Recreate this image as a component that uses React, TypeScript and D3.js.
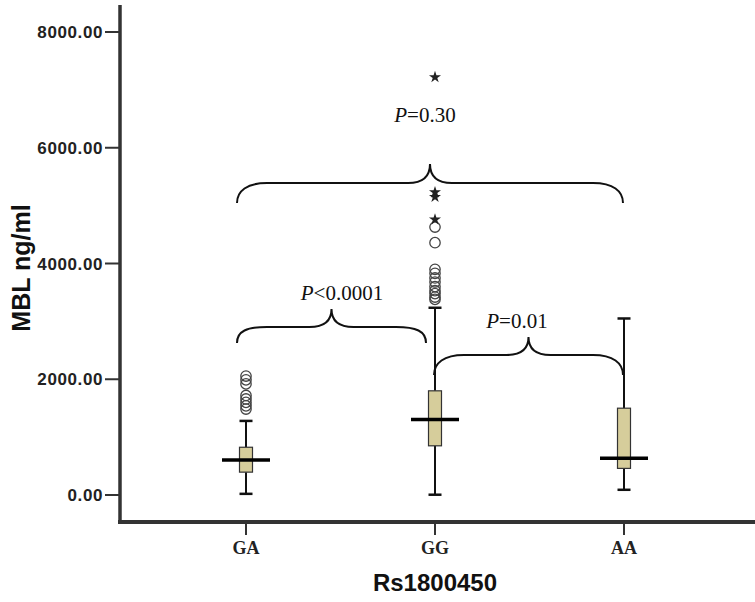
import * as d3 from "d3";

const categories = ["GA", "GG", "AA"];
const lowerWhisker = [20, 5, 90];
const q1 = [395, 850, 460];
const medians = [605, 1305, 635];
const q3 = [825, 1800, 1500];
const upperWhisker = [1280, 3235, 3050];
const circleOutliers = [
  [1485, 1540, 1600, 1660, 1720, 1920, 1990, 2055],
  [3380, 3420, 3480, 3530, 3600, 3680, 3750, 3830, 3900, 4360, 4630],
  [],
];
const starOutliers = [[], [4760, 5150, 5230, 7220], []];
const yTicks = [0, 2000, 4000, 6000, 8000];

// comparisons between genotypes
const compFrom = ["GA", "GA", "GG"];
const compTo = ["AA", "GG", "AA"];
const compOp = ["=", "<", "="];
const compP = ["0.30", "0.0001", "0.01"];

// bracket layout (pixels) for each comparison
const bracketLayout = [
  { x0: -9, x1: -1, base: 203, rise: 20, peak: 19, tx: 425, ty: 122 },
  { x0: -9, x1: -9, base: 343, rise: 16, peak: 18, tx: 342, ty: 300 },
  { x0: -1, x1: -1, base: 375, rise: 20, peak: 18, tx: 517, ty: 328 },
];

function bracketPath(a: number, b: number, yb: number, h1: number, h2: number) {
  const mid = (a + b) / 2;
  const r = 30;
  const r2 = 22;
  const yh = yb - h1;
  return `M${a},${yb} C${a},${yb - 12} ${a + 10},${yh} ${a + r},${yh} L${mid - r2},${yh} C${mid - 9},${yh} ${mid},${yh - 5} ${mid},${yh - h2} C${mid},${yh - 5} ${mid + 9},${yh} ${mid + r2},${yh} L${b - r},${yh} C${b - 10},${yh} ${b},${yb - 12} ${b},${yb}`;
}

export default function App() {
  const W = 755;
  const H = 602;
  const y = d3.scaleLinear().domain([0, 8000]).range([495, 32]);
  const x = d3.scalePoint<string>().domain(categories).range([246, 624]);
  const axisX = 120;
  const axisY = 522;
  const boxW = 13;
  const medW = 48;
  const capW = 13;
  const star = d3.symbol().type(d3.symbolStar).size(45)();

  return (
    <svg
      width={W}
      height={H}
      style={{ position: "absolute", left: 0, top: 0, background: "#fff" }}
    >
      {/* y axis */}
      <line x1={axisX} x2={axisX} y1={5} y2={axisY + 2} stroke="#333" strokeWidth={3.5} />
      {yTicks.map((t) => (
        <g key={t}>
          <line x1={105} x2={axisX} y1={y(t)} y2={y(t)} stroke="#333" strokeWidth={2} />
          <text
            x={103}
            y={y(t) + 6}
            textAnchor="end"
            fontFamily="'Liberation Sans', Arial, sans-serif"
            fontWeight="bold"
            fontSize={17}
            letterSpacing={0.6}
            fill="#222"
          >
            {d3.format(".2f")(t)}
          </text>
        </g>
      ))}
      <text
        transform={`translate(30,268) rotate(-90)`}
        textAnchor="middle"
        fontFamily="'Liberation Sans', Arial, sans-serif"
        fontWeight="bold"
        fontSize={25}
        fill="#111"
      >
        MBL ng/ml
      </text>

      {/* x axis */}
      <line x1={axisX - 2} x2={W} y1={axisY} y2={axisY} stroke="#333" strokeWidth={4} />
      {categories.map((c) => (
        <g key={c}>
          <line x1={x(c)} x2={x(c)} y1={axisY} y2={axisY + 13} stroke="#333" strokeWidth={2} />
          <text
            x={x(c)}
            y={axisY + 32}
            textAnchor="middle"
            fontFamily="'Liberation Serif', 'Times New Roman', serif"
            fontWeight="bold"
            fontSize={18}
            fill="#222"
          >
            {c}
          </text>
        </g>
      ))}
      <text
        x={435}
        y={591}
        textAnchor="middle"
        fontFamily="'Liberation Sans', Arial, sans-serif"
        fontWeight="bold"
        fontSize={24}
        fill="#111"
      >
        Rs1800450
      </text>

      {/* boxes */}
      {categories.map((c, i) => {
        const cx = x(c) as number;
        return (
          <g key={c}>
            <line x1={cx} x2={cx} y1={y(q3[i])} y2={y(upperWhisker[i])} stroke="#111" strokeWidth={2} />
            <line x1={cx} x2={cx} y1={y(q1[i])} y2={y(lowerWhisker[i])} stroke="#111" strokeWidth={2} />
            <line x1={cx - capW / 2} x2={cx + capW / 2} y1={y(upperWhisker[i])} y2={y(upperWhisker[i])} stroke="#111" strokeWidth={2.5} />
            <line x1={cx - capW / 2} x2={cx + capW / 2} y1={y(lowerWhisker[i])} y2={y(lowerWhisker[i])} stroke="#111" strokeWidth={2.5} />
            <rect
              x={cx - boxW / 2}
              y={y(q3[i])}
              width={boxW}
              height={y(q1[i]) - y(q3[i])}
              fill="#d6cd9b"
              stroke="#333"
              strokeWidth={1.2}
            />
            <line x1={cx - medW / 2} x2={cx + medW / 2} y1={y(medians[i])} y2={y(medians[i])} stroke="#000" strokeWidth={3.5} />
            {circleOutliers[i].map((v, k) => (
              <circle key={k} cx={cx} cy={y(v)} r={5.2} fill="none" stroke="#444" strokeWidth={1.3} />
            ))}
            {starOutliers[i].map((v, k) => (
              <path key={k} d={star as string} transform={`translate(${cx},${y(v)})`} fill="#222" />
            ))}
          </g>
        );
      })}

      {/* comparison brackets */}
      {compFrom.map((f, i) => {
        const L = bracketLayout[i];
        const a = (x(f) as number) + L.x0;
        const b = (x(compTo[i]) as number) + L.x1;
        return (
          <g key={i}>
            <path d={bracketPath(a, b, L.base, L.rise, L.peak)} fill="none" stroke="#111" strokeWidth={2} />
            <text
              x={L.tx}
              y={L.ty}
              textAnchor="middle"
              fontFamily="'Liberation Serif', 'Times New Roman', serif"
              fontSize={21}
              fill="#111"
            >
              <tspan fontStyle="italic">P</tspan>
              {compOp[i] + compP[i]}
            </text>
          </g>
        );
      })}
    </svg>
  );
}
